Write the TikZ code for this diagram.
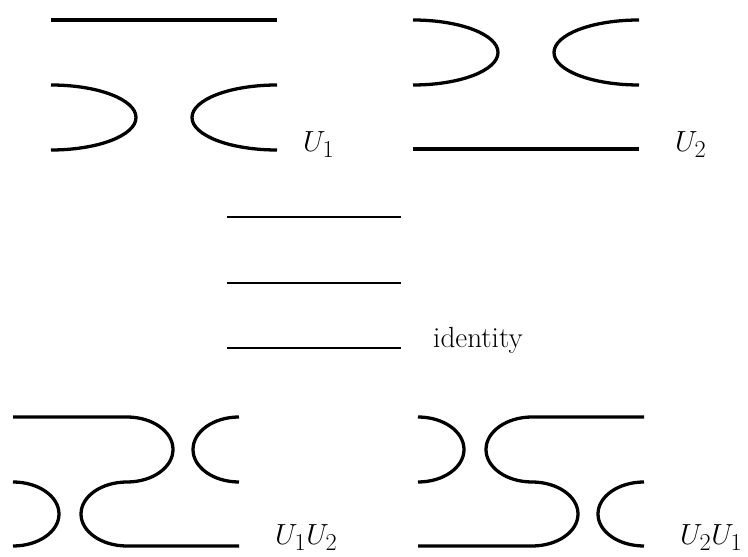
\documentclass[tikz,border=0pt]{standalone}
\usepackage{tikz}
\usetikzlibrary{positioning,calc}

\tikzset{
  strand/.style={line width=2.8pt},
  idstrand/.style={line width=1.8pt},
  lab/.style={anchor=base west, inner sep=0pt, font=\Huge}
}

\begin{document}
\begin{tikzpicture}[x=0.03cm, y=0.03cm]
\useasboundingbox (0,0) rectangle (748,557);

% U1: straight strand on top, cup and cap below
\draw[strand] (51,537) -- (277,537);
\draw[strand] (51,472) arc[start angle=90, end angle=-90, x radius=85, y radius=32.5];
\draw[strand] (277,472) arc[start angle=90, end angle=270, x radius=85, y radius=32.5];
\node[lab] (labU1) at (303,405) {$U_1$};

% U2: cup and cap on top, straight strand below
\draw[strand] (413,537) arc[start angle=90, end angle=-90, x radius=85, y radius=32.5];
\draw[strand] (639,537) arc[start angle=90, end angle=270, x radius=85, y radius=32.5];
\draw[strand] (413,408) -- (639,408);
\node[lab] (labU2) at (675,405) {$U_2$};

% Identity
\draw[idstrand] (227,340) -- (401,340);
\draw[idstrand] (227,274) -- (401,274);
\draw[idstrand] (227,209) -- (401,209);
\node[lab] (labid) at (433,209) {identity};

% U1U2
\draw[strand] (13,140) -- (127,140)
  arc[start angle=90, end angle=-90, x radius=46, y radius=32.5]
  arc[start angle=90, end angle=270, x radius=46, y radius=32]
  -- (239,11);
\draw[strand] (239,140) arc[start angle=90, end angle=270, x radius=46, y radius=32.5];
\draw[strand] (13,75) arc[start angle=90, end angle=-90, x radius=46, y radius=32];
\node[lab] (labU1U2) at (275,12) {$U_1U_2$};

% U2U1
\draw[strand] (644,140) -- (532,140)
  arc[start angle=90, end angle=270, x radius=46, y radius=32.5]
  arc[start angle=90, end angle=-90, x radius=46, y radius=32]
  -- (418,11);
\draw[strand] (418,140) arc[start angle=90, end angle=-90, x radius=46, y radius=32.5];
\draw[strand] (644,75) arc[start angle=90, end angle=270, x radius=46, y radius=32];
\node[lab] (labU2U1) at (680,12) {$U_2U_1$};
\end{tikzpicture}
\end{document}
